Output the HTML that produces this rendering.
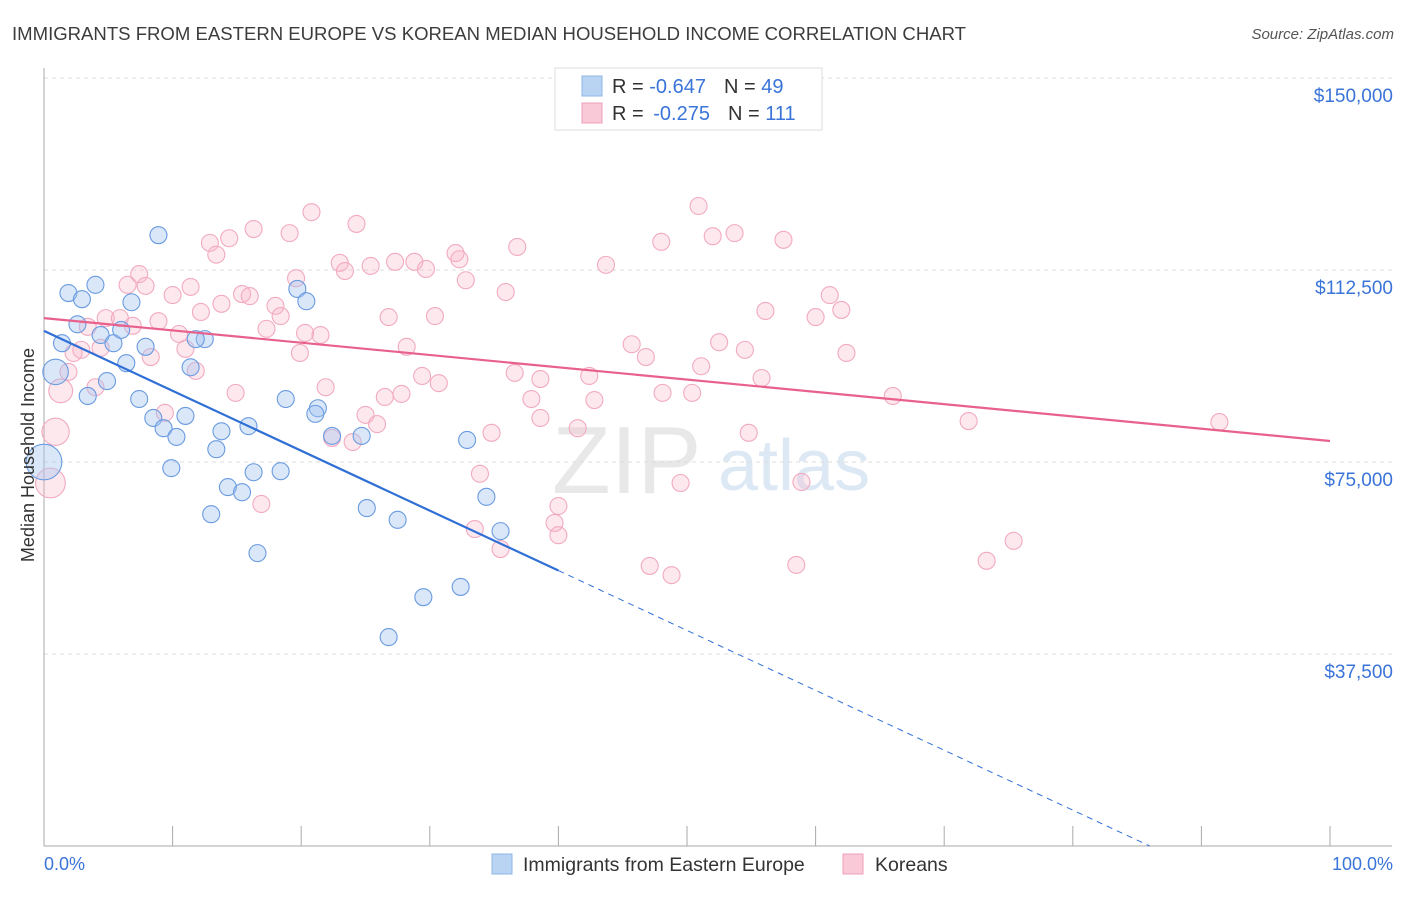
<!DOCTYPE html>
<html><head><meta charset="utf-8">
<style>
body{margin:0;background:#fff;font-family:"Liberation Sans",sans-serif;}
svg text{font-family:"Liberation Sans",sans-serif;}
</style></head>
<body>
<svg id="chart" width="1406" height="892" viewBox="0 0 1406 892" xmlns="http://www.w3.org/2000/svg">
<text x="12" y="40" font-size="18" fill="#3c3c3c" textLength="954" lengthAdjust="spacingAndGlyphs">IMMIGRANTS FROM EASTERN EUROPE VS KOREAN MEDIAN HOUSEHOLD INCOME CORRELATION CHART</text>
<text x="1394" y="39" font-size="15" fill="#555" font-style="italic" text-anchor="end">Source: ZipAtlas.com</text>
<text x="552" y="493" font-size="96" fill="#e8e8e8" font-family="Liberation Serif">ZIP</text>
<text x="718" y="490" font-size="72" fill="#dde8f5">atlas</text>
<g id="grid"></g>
<g id="axes"></g>
<g id="marks"></g>
<text transform="translate(34,455) rotate(-90)" font-size="18" fill="#333" text-anchor="middle">Median Household Income</text>
<g>
<rect x="555" y="68" width="267" height="62" fill="#fff" stroke="#ddd"/>
<rect x="582" y="76" width="20" height="20" fill="#b9d3f3" stroke="#8fb4e6"/>
<rect x="582" y="103" width="20" height="20" fill="#f9c9d7" stroke="#f0a0ba"/>
<text x="612" y="93" font-size="20" fill="#333">R = <tspan fill="#3a74d8">-0.647</tspan><tspan dx="18">N = </tspan><tspan fill="#3a74d8">49</tspan></text>
<text x="612" y="120" font-size="20" fill="#333">R = <tspan fill="#3a74d8" dx="4">-0.275</tspan><tspan dx="18">N = </tspan><tspan fill="#3a74d8">111</tspan></text>
</g>
<g>
<rect x="492" y="854" width="20" height="20" fill="#b9d3f3" stroke="#8fb4e6"/>
<text x="523" y="871" font-size="19.5" fill="#333">Immigrants from Eastern Europe</text>
<rect x="843" y="854" width="20" height="20" fill="#f9c9d7" stroke="#f0a0ba"/>
<text x="875" y="871" font-size="19.5" fill="#333">Koreans</text>
</g>
<text x="44" y="870" font-size="18" fill="#3a74d8">0.0%</text>
<text x="1393" y="870" font-size="18" fill="#3a74d8" text-anchor="end">100.0%</text>
</svg>
<script>
const yTicks=[37500,75000,112500,150000];
const yTickLabels=["$37,500","$75,000","$112,500","$150,000"];
const blueX=[8.9,1.9,2.95,4.0,6.8,2.6,1.4,4.4,5.4,6.0,7.9,12.5,11.8,6.4,0.9,3.4,4.9,7.4,8.5,9.3,10.3,11.0,11.4,13.8,13.4,15.9,9.9,14.3,15.4,16.3,18.4,13.0,16.6,18.8,19.7,20.4,21.3,21.1,22.4,24.7,25.1,27.5,26.8,29.5,32.4,32.9,34.4,35.5,0];
const blueY=[119.3,108.0,106.8,109.6,106.2,101.9,98.2,99.8,98.2,100.8,97.5,99.0,99.0,94.3,92.6,87.9,90.8,87.3,83.6,81.6,79.9,84.0,93.5,81.0,77.5,82.0,73.8,70.1,69.1,73.0,73.2,64.8,57.2,87.3,108.8,106.4,85.5,84.4,80.1,80.1,66.0,63.7,40.8,48.6,50.6,79.3,68.2,61.5,75.0];
const blueSize=[1,1,1,1,1,1,1,1,1,1,1,1,1,1,1.5,1,1,1,1,1,1,1,1,1,1,1,1,1,1,1,1,1,1,1,1,1,1,1,1,1,1,1,1,1,1,1,1,1,2.1];
const pinkX=[20.8,24.3,16.3,19.1,14.4,12.9,13.4,36.8,32.0,32.3,23.0,23.4,25.4,27.3,28.8,29.7,32.8,19.6,7.4,6.5,7.9,11.4,10.0,15.4,16.0,35.9,13.8,18.0,12.2,18.4,26.8,30.4,4.8,5.9,8.9,3.4,6.9,17.3,20.3,21.5,10.5,28.2,2.9,2.3,4.4,11.0,8.3,19.9,1.9,1.3,4.0,11.8,14.9,21.9,29.4,30.7,36.6,38.6,26.5,27.8,37.9,38.6,9.4,25.0,25.9,34.8,0.9,24.0,22.4,0.5,33.9,16.9,33.5,35.5,40.0,39.7,40.0,43.7,48.0,50.9,52.0,53.7,57.5,45.7,46.8,42.4,42.8,41.5,48.1,50.4,51.1,52.5,54.5,55.8,56.1,60.0,61.1,62.0,62.4,54.8,49.5,58.9,66.0,71.9,91.4,47.1,48.8,58.5,73.3,75.4];
const pinkY=[123.8,121.5,120.5,119.7,118.7,117.8,115.5,117.0,115.8,114.6,113.9,112.3,113.3,114.1,114.1,112.7,110.5,110.9,111.7,109.6,109.4,109.2,107.6,107.8,107.4,108.2,105.9,105.5,104.3,103.5,103.3,103.5,103.1,103.1,102.5,101.4,101.6,101.0,100.2,99.8,100.0,97.5,96.9,96.3,97.3,97.1,95.5,96.3,92.6,88.9,89.6,92.8,88.5,89.6,91.8,90.4,92.4,91.2,87.7,88.3,87.3,83.6,84.6,84.2,82.4,80.7,80.9,78.9,79.7,70.9,72.7,66.8,61.9,58.0,66.4,63.1,60.7,113.5,118.0,125.0,119.1,119.7,118.4,98.0,95.5,91.8,87.1,81.6,88.5,88.5,93.7,98.4,96.9,91.4,104.5,103.3,107.6,104.7,96.3,80.7,70.9,71.1,87.9,83.0,82.8,54.7,52.9,54.9,55.7,59.6];
const pinkSize=pinkX.map((v,i)=>1);
pinkSize[49]=1.4;pinkSize[66]=1.6;pinkSize[69]=1.75;
const blueTrend=[100.6,-1.17];
const pinkTrend=[103.1,-0.24];
const blueSolidEnd=40;

const NS="http://www.w3.org/2000/svg";
const xs=p=>44+p*12.86;
const ys=k=>846-k*1000/37500*192;
const ysd=v=>846-v/37500*192;
function mk(tag,attrs,parent){const e=document.createElementNS(NS,tag);for(const k in attrs)e.setAttribute(k,attrs[k]);parent.appendChild(e);return e;}
const grid=document.getElementById('grid'),axes=document.getElementById('axes'),marks=document.getElementById('marks');
yTicks.forEach((t,i)=>{
  const l=mk('line',{x1:44,x2:1392,y1:ysd(t),y2:ysd(t),stroke:'#ddd','stroke-dasharray':'4,4'},grid);
  
  
  const tx=mk('text',{x:1393,y:ysd(t)+24,'font-size':19,fill:'#3a74d8','text-anchor':'end'},grid);
  tx.textContent=yTickLabels[i];
  
  
});
const ya=mk('line',{x1:44,x2:44,y1:68,y2:846,stroke:'#aaa'},axes);


const xa=mk('line',{x1:44,x2:1392,y1:846,y2:846,stroke:'#aaa'},axes);


for(let i=0;i<=10;i++){
  const t=mk('line',{x1:xs(i*10),x2:xs(i*10),y1:826,y2:846,stroke:'#aaa'},axes);
  
  
}
function dots(X,Y,S,fill,stroke,name){
  X.forEach((x,i)=>{
    const c=mk('circle',{cx:xs(x),cy:ys(Y[i]),r:8.5*S[i],fill:fill,stroke:stroke,'stroke-width':1.1},marks);
    
    
  });
}
dots(pinkX,pinkY,pinkSize,'rgba(248,180,200,0.3)','#f2aac0','korean-point');
dots(blueX,blueY,blueSize,'rgba(160,196,240,0.4)','#6a9be0','eastern-europe-point');
const bEnd=-blueTrend[0]/blueTrend[1];
const bl=mk('line',{x1:xs(0),y1:ys(blueTrend[0]),x2:xs(blueSolidEnd),y2:ys(blueTrend[0]+blueTrend[1]*blueSolidEnd),stroke:'#2f6fd6','stroke-width':2.2},marks);


const bd=mk('line',{x1:xs(blueSolidEnd),y1:ys(blueTrend[0]+blueTrend[1]*blueSolidEnd),x2:xs(bEnd),y2:ys(0),stroke:'#2f6fd6','stroke-width':1,'stroke-dasharray':'6,5'},marks);


const pl=mk('line',{x1:xs(0),y1:ys(pinkTrend[0]),x2:xs(100),y2:ys(pinkTrend[0]+pinkTrend[1]*100),stroke:'#e8608c','stroke-width':2.2},marks);


</script>
</body></html>
